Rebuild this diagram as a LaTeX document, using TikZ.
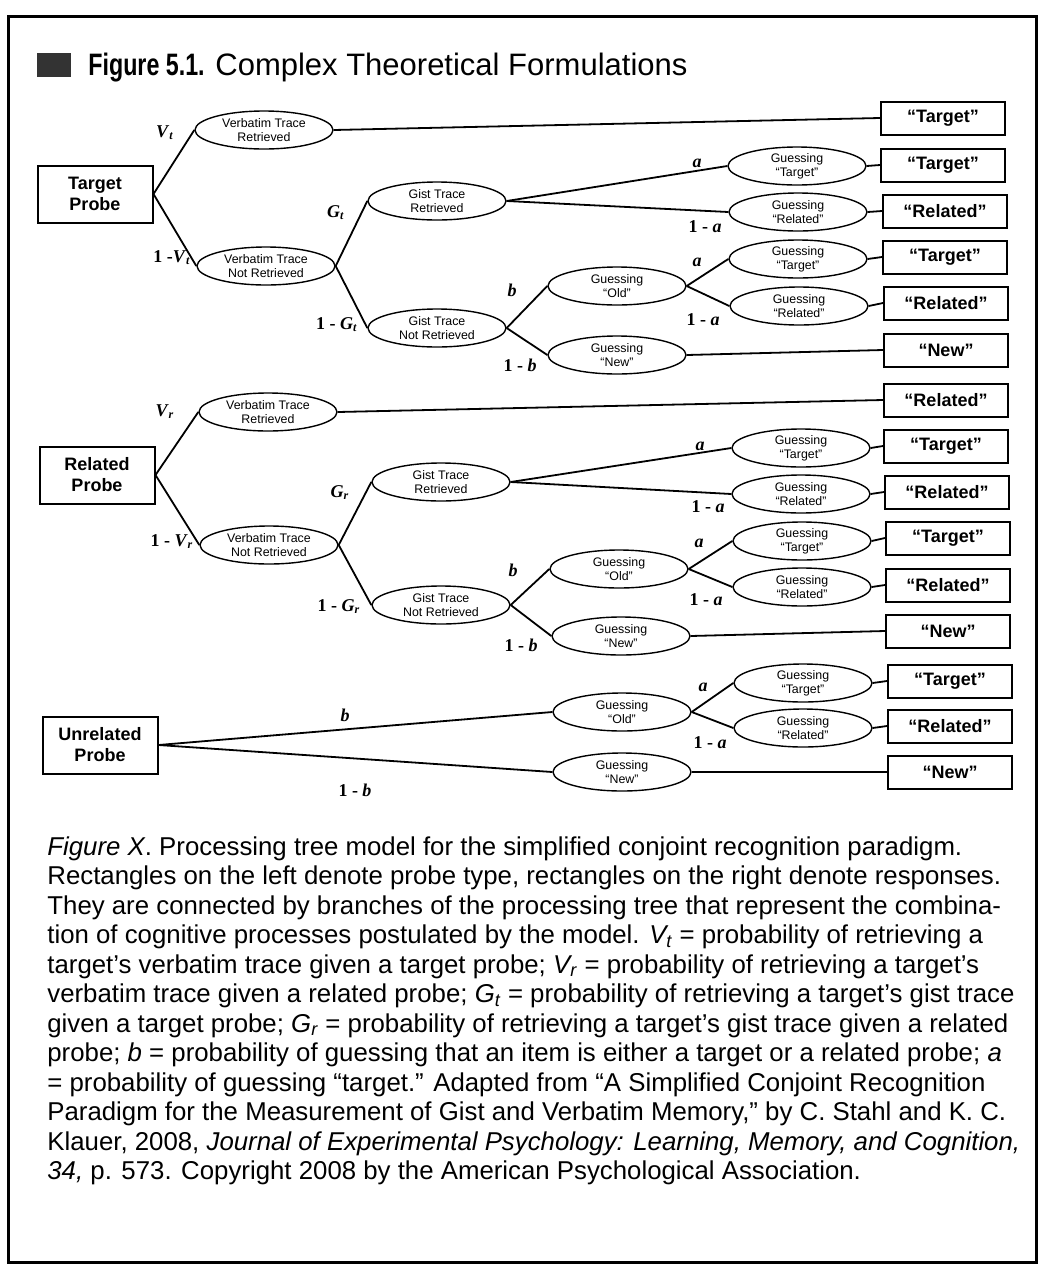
\documentclass[tikz,border=0pt]{standalone}
\usepackage{fontspec}
\setmainfont{Liberation Sans}
\newfontfamily\serfont{Liberation Serif}
\newfontfamily\condfont[FakeStretch=0.75]{Liberation Sans}
\usetikzlibrary{shapes.geometric}

\begin{document}
\begin{tikzpicture}[x=0.5pt, y=-0.5pt,
    probe/.style={draw, line width=1pt, minimum width=57.5pt, minimum height=28.5pt,
        inner sep=0pt, align=center, font=\fontsize{9}{10.5}\selectfont\bfseries},
    resp/.style={draw, line width=1pt, minimum width=62pt, minimum height=16.5pt,
        inner sep=0pt, font=\fontsize{9}{10}\selectfont\bfseries},
    state/.style={draw, ellipse, line width=0.7pt, minimum width=69pt, minimum height=19pt,
        inner sep=0pt, align=center, font=\fontsize{6.2}{6.8}\selectfont},
    prob/.style={inner sep=0pt, font=\fontsize{9}{10}\selectfont\serfont\bfseries},
    branch/.style={line width=0.9pt},
    capline/.style={anchor=base west, inner sep=0pt, font=\fontsize{12.9}{15}\selectfont}]
\useasboundingbox (0,0) rectangle (1044,1275);
\draw[line width=1.5pt] (8,16) rectangle (1036,1262);

% title
\fill[black!80] (37,53) rectangle (71,77);
\node[anchor=base west, inner sep=0pt, font=\fontsize{15.5}{17}\selectfont\condfont\bfseries] (fignum) at (88,75) {Figure 5.1.};
\node[anchor=base west, inner sep=0pt, font=\fontsize{15.5}{17}\selectfont] (figtitle) at (215,75) {Complex Theoretical Formulations};

% target probe
\node[probe] (tp) at (95,194) {Target\\Probe};
\node[state] (vt1) at (264,130) {Verbatim Trace\\Retrieved};
\node[state] (vn1) at (266,266) {Verbatim Trace\\Not Retrieved};
\node[state] (gr1) at (437,201) {Gist Trace\\Retrieved};
\node[state] (gn1) at (437,328) {Gist Trace\\Not Retrieved};
\node[state] (go1) at (617,286) {Guessing\\“Old”};
\node[state] (gw1) at (617,355) {Guessing\\“New”};
\node[state] (ga1) at (797,166) {Guessing\\“Target”};
\node[state] (gb1) at (798,212) {Guessing\\“Related”};
\node[state] (ga2) at (798,259) {Guessing\\“Target”};
\node[state] (gb2) at (799,306) {Guessing\\“Related”};
\node[resp] (r1) at (943,118) {“Target”};
\node[resp] (r2) at (943,165) {“Target”};
\node[resp] (r3) at (945,211) {“Related”};
\node[resp] (r4) at (945,257) {“Target”};
\node[resp] (r5) at (946,303) {“Related”};
\node[resp] (r6) at (946,350) {“New”};

\draw[branch]
(tp.east) -- (vt1.west);
\draw[branch]
(tp.east) -- (vn1.west);
\draw[branch]
(vt1.east) -- (r1.west);
\draw[branch]
(vn1.east) -- (gr1.west);
\draw[branch]
(vn1.east) -- (gn1.west);
\draw[branch]
(gr1.east) -- (ga1.west);
\draw[branch]
(gr1.east) -- (gb1.west);
\draw[branch]
(gn1.east) -- (go1.west);
\draw[branch]
(gn1.east) -- (gw1.west);
\draw[branch]
(go1.east) -- (ga2.west);
\draw[branch]
(go1.east) -- (gb2.west);
\draw[branch] (ga1.east) -- (r2.west);
\draw[branch] (gb1.east) -- (r3.west);
\draw[branch] (ga2.east) -- (r4.west);
\draw[branch] (gb2.east) -- (r5.west);
\draw[branch] (gw1.east) -- (r6.west);

\node[prob] (pv1) at (165,133) {\textit{V}\textsubscript{\textit{t}}};
\node[prob] (qv1) at (172,258) {1 -\textit{V}\textsubscript{\textit{t}}};
\node[prob] (pg1) at (336,213) {\textit{G}\textsubscript{\textit{t}}};
\node[prob] (qg1) at (337,325) {1 - \textit{G}\textsubscript{\textit{t}}};
\node[prob] (pa1) at (697,163) {\textit{a}};
\node[prob] (qa1) at (705,227) {1 - \textit{a}};
\node[prob] (pb1) at (512,290) {\textit{b}};
\node[prob] (qb1) at (520,365) {1 - \textit{b}};
\node[prob] (pa2) at (697,262) {\textit{a}};
\node[prob] (qa2) at (703,320) {1 - \textit{a}};

% related probe
\node[probe] (rp) at (97,475) {Related\\Probe};
\node[state] (vt2) at (268,412) {Verbatim Trace\\Retrieved};
\node[state] (vn2) at (269,545) {Verbatim Trace\\Not Retrieved};
\node[state] (gr2) at (441,482) {Gist Trace\\Retrieved};
\node[state] (gn2) at (441,605) {Gist Trace\\Not Retrieved};
\node[state] (go2) at (619,569) {Guessing\\“Old”};
\node[state] (gw2) at (621,636) {Guessing\\“New”};
\node[state] (ga3) at (801,448) {Guessing\\“Target”};
\node[state] (gb3) at (801,494) {Guessing\\“Related”};
\node[state] (ga4) at (802,541) {Guessing\\“Target”};
\node[state] (gb4) at (802,587) {Guessing\\“Related”};
\node[resp] (r7) at (946,400) {“Related”};
\node[resp] (r8) at (946,446) {“Target”};
\node[resp] (r9) at (947,492) {“Related”};
\node[resp] (r10) at (948,538) {“Target”};
\node[resp] (r11) at (948,585) {“Related”};
\node[resp] (r12) at (948,631) {“New”};

\draw[branch]
(rp.east) -- (vt2.west);
\draw[branch]
(rp.east) -- (vn2.west);
\draw[branch]
(vt2.east) -- (r7.west);
\draw[branch]
(vn2.east) -- (gr2.west);
\draw[branch]
(vn2.east) -- (gn2.west);
\draw[branch]
(gr2.east) -- (ga3.west);
\draw[branch]
(gr2.east) -- (gb3.west);
\draw[branch]
(gn2.east) -- (go2.west);
\draw[branch]
(gn2.east) -- (gw2.west);
\draw[branch]
(go2.east) -- (ga4.west);
\draw[branch]
(go2.east) -- (gb4.west);
\draw[branch] (ga3.east) -- (r8.west);
\draw[branch] (gb3.east) -- (r9.west);
\draw[branch] (ga4.east) -- (r10.west);
\draw[branch] (gb4.east) -- (r11.west);
\draw[branch] (gw2.east) -- (r12.west);

\node[prob] (pv2) at (165,412) {\textit{V}\textsubscript{\textit{r}}};
\node[prob] (qv2) at (172,542) {1 - \textit{V}\textsubscript{\textit{r}}};
\node[prob] (pg2) at (340,493) {\textit{G}\textsubscript{\textit{r}}};
\node[prob] (qg2) at (339,607) {1 - \textit{G}\textsubscript{\textit{r}}};
\node[prob] (pa3) at (700,446) {\textit{a}};
\node[prob] (qa3) at (708,507) {1 - \textit{a}};
\node[prob] (pb2) at (513,570) {\textit{b}};
\node[prob] (qb2) at (521,645) {1 - \textit{b}};
\node[prob] (pa4) at (699,543) {\textit{a}};
\node[prob] (qa4) at (706,600) {1 - \textit{a}};

% unrelated probe
\node[probe] (up) at (100,745) {Unrelated\\Probe};
\node[state] (go3) at (622,712) {Guessing\\“Old”};
\node[state] (gw3) at (622,772) {Guessing\\“New”};
\node[state] (ga5) at (803,683) {Guessing\\“Target”};
\node[state] (gb5) at (803,728) {Guessing\\“Related”};
\node[resp] (r13) at (950,681) {“Target”};
\node[resp] (r14) at (950,726) {“Related”};
\node[resp] (r15) at (950,772) {“New”};

\draw[branch]
(up.east) -- (go3.west);
\draw[branch]
(up.east) -- (gw3.west);
\draw[branch]
(go3.east) -- (ga5.west);
\draw[branch]
(go3.east) -- (gb5.west);
\draw[branch] (ga5.east) -- (r13.west);
\draw[branch] (gb5.east) -- (r14.west);
\draw[branch] (gw3.east) -- (r15.west);

\node[prob] (pb3) at (345,715) {\textit{b}};
\node[prob] (qb3) at (355,790) {1 - \textit{b}};
\node[prob] (pa5) at (703,687) {\textit{a}};
\node[prob] (qa5) at (710,743) {1 - \textit{a}};

% caption
\node[capline] (c1) at (47,855) {\textit{Figure X}. Processing tree model for the simplified conjoint recognition paradigm.};
\node[capline] (c2) at (47,884.5) {Rectangles on the left denote probe type, rectangles on the right denote responses.};
\node[capline] (c3) at (47,914) {They are connected by branches of the processing tree that represent the combina-};
\node[capline] (c4) at (47,943.5) {tion of cognitive processes postulated by the model. \textit{V\textsubscript{t}} = probability of retrieving a};
\node[capline] (c5) at (47,973) {target’s verbatim trace given a target probe; \textit{V\textsubscript{r}} = probability of retrieving a target’s};
\node[capline] (c6) at (47,1002.5) {verbatim trace given a related probe; \textit{G\textsubscript{t}} = probability of retrieving a target’s gist trace};
\node[capline] (c7) at (47,1032) {given a target probe; \textit{G\textsubscript{r}} = probability of retrieving a target’s gist trace given a related};
\node[capline] (c8) at (47,1061.5) {probe; \textit{b} = probability of guessing that an item is either a target or a related probe; \textit{a}};
\node[capline] (c9) at (47,1091) {= probability of guessing “target.” Adapted from “A Simplified Conjoint Recognition};
\node[capline] (c10) at (47,1120.5) {Paradigm for the Measurement of Gist and Verbatim Memory,” by C. Stahl and K. C.};
\node[capline] (c11) at (47,1150) {Klauer, 2008, \textit{Journal of Experimental Psychology: Learning, Memory, and Cognition,}};
\node[capline] (c12) at (47,1179.5) {\textit{34,} p. 573. Copyright 2008 by the American Psychological Association.};
\end{tikzpicture}
\end{document}
